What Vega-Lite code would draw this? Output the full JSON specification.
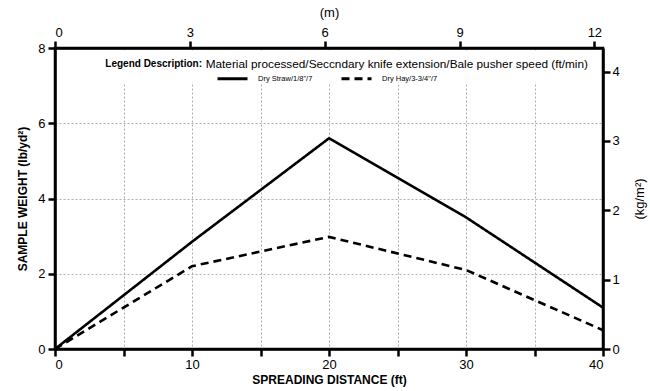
{
  "$schema": "https://vega.github.io/schema/vega-lite/v6.json",
  "width": 548,
  "height": 301,
  "autosize": {"type": "none"},
  "padding": {"left": 55, "top": 48, "right": 47, "bottom": 42},
  "background": "white",
  "config": {
    "font": "Liberation Sans",
    "view": {"stroke": "black", "strokeWidth": 2.5},
    "axis": {
      "domainColor": "black", "domainWidth": 2.5,
      "tickColor": "black", "tickWidth": 2.5, "tickSize": 7,
      "labelColor": "black", "labelFontSize": 13, "labelFont": "Liberation Sans",
      "titleColor": "black", "titleFontSize": 12, "titleFont": "Liberation Sans", "titleFontWeight": "bold",
      "gridColor": "#999999", "gridDash": [2, 2], "gridWidth": 0.8
    }
  },
  "datasets": {
    "series": [
      {"dist": 0, "weight": 0, "series": "Dry Straw/1/8\"/7"},
      {"dist": 10, "weight": 2.85, "series": "Dry Straw/1/8\"/7"},
      {"dist": 20, "weight": 5.6, "series": "Dry Straw/1/8\"/7"},
      {"dist": 30, "weight": 3.5, "series": "Dry Straw/1/8\"/7"},
      {"dist": 40, "weight": 1.1, "series": "Dry Straw/1/8\"/7"},
      {"dist": 0, "weight": 0, "series": "Dry Hay/3-3/4\"/7"},
      {"dist": 10, "weight": 2.2, "series": "Dry Hay/3-3/4\"/7"},
      {"dist": 20, "weight": 2.98, "series": "Dry Hay/3-3/4\"/7"},
      {"dist": 30, "weight": 2.1, "series": "Dry Hay/3-3/4\"/7"},
      {"dist": 40, "weight": 0.5, "series": "Dry Hay/3-3/4\"/7"}
    ],
    "metric": [
      {"m": 0, "kg": 0},
      {"m": 12.192, "kg": 4.34}
    ],
    "one": [{}]
  },
  "layer": [
    {
      "layer": [
        {
          "data": {"name": "series"},
          "mark": {"type": "line", "opacity": 0},
          "encoding": {
            "x": {"field": "dist", "type": "quantitative",
              "scale": {"domain": [0, 40], "nice": false},
              "axis": {"orient": "bottom", "title": "SPREADING DISTANCE (ft)", "values": [0,5,10,15,20,25,30,35,40],
                "labelExpr": "datum.value % 10 == 0 ? datum.label : ''", "grid": true, "titlePadding": 3, "labelPadding": 2}},
            "y": {"field": "weight", "type": "quantitative",
              "scale": {"domain": [0, 8], "nice": false},
              "axis": {"orient": "left", "title": "SAMPLE WEIGHT (lb/yd²)", "values": [0,1,2,3,4,5,6,7,8],
                "labelExpr": "datum.value % 2 == 0 ? datum.label : ''", "grid": true, "titlePadding": 8, "labelPadding": 3}}
          }
        },
        {
          "data": {"name": "one"},
          "mark": {"type": "rect", "fill": "white"},
          "encoding": {
            "x": {"datum": 0.22, "type": "quantitative"},
            "x2": {"datum": 39.78},
            "y": {"datum": 7.08, "type": "quantitative"},
            "y2": {"datum": 7.93}
          }
        },
        {
          "data": {"name": "series"},
          "mark": {"type": "line", "color": "black", "strokeWidth": 2.6},
          "encoding": {
            "x": {"field": "dist", "type": "quantitative"},
            "y": {"field": "weight", "type": "quantitative"},
            "strokeDash": {"field": "series", "type": "nominal",
              "scale": {"domain": ["Dry Straw/1/8\"/7", "Dry Hay/3-3/4\"/7"], "range": [[1, 0], [8, 5]]},
              "sort": ["Dry Straw/1/8\"/7", "Dry Hay/3-3/4\"/7"],
              "legend": {"orient": "none", "legendX": 161, "legendY": 14, "direction": "horizontal", "title": null, "padding": 0,
                "symbolType": "stroke", "symbolSize": 900, "symbolStrokeWidth": 3, "symbolStrokeColor": "black",
                "labelFont": "Liberation Sans", "labelFontSize": 7.5, "labelColor": "black", "labelOffset": 9, "columnPadding": 22}}
          }
        },
        {
          "data": {"name": "one"},
          "mark": {"type": "text", "align": "right", "baseline": "middle", "fontWeight": "bold", "fontSize": 10, "font": "Liberation Sans", "color": "black"},
          "encoding": {
            "x": {"datum": 10.73, "type": "quantitative"},
            "y": {"datum": 7.58, "type": "quantitative"},
            "text": {"value": "Legend Description:"}
          }
        },
        {
          "data": {"name": "one"},
          "mark": {"type": "text", "align": "left", "baseline": "middle", "fontSize": 11.8, "font": "Liberation Sans", "color": "black"},
          "encoding": {
            "x": {"datum": 11.0, "type": "quantitative"},
            "y": {"datum": 7.58, "type": "quantitative"},
            "text": {"value": "Material processed/Seccndary knife extension/Bale pusher speed (ft/min)"}
          }
        }
      ]
    },
    {
      "data": {"name": "metric"},
      "mark": {"type": "point", "opacity": 0},
      "encoding": {
        "x": {"field": "m", "type": "quantitative",
          "scale": {"domain": [0, 12.192], "nice": false},
          "axis": {"orient": "top", "title": "(m)", "titleFontWeight": "normal", "titleFontSize": 13, "values": [0,3,6,9,12], "grid": false, "titlePadding": 7, "labelPadding": 2}},
        "y": {"field": "kg", "type": "quantitative",
          "scale": {"domain": [0, 4.34], "nice": false},
          "axis": {"orient": "right", "title": "(kg/m²)", "titleFontWeight": "normal", "titleFontSize": 13, "titleAngle": 270, "titleBaseline": "top", "values": [0,1,2,3,4], "grid": false, "titlePadding": 14, "labelPadding": 2}}
      }
    }
  ],
  "resolve": {"scale": {"x": "independent", "y": "independent"}}
}
